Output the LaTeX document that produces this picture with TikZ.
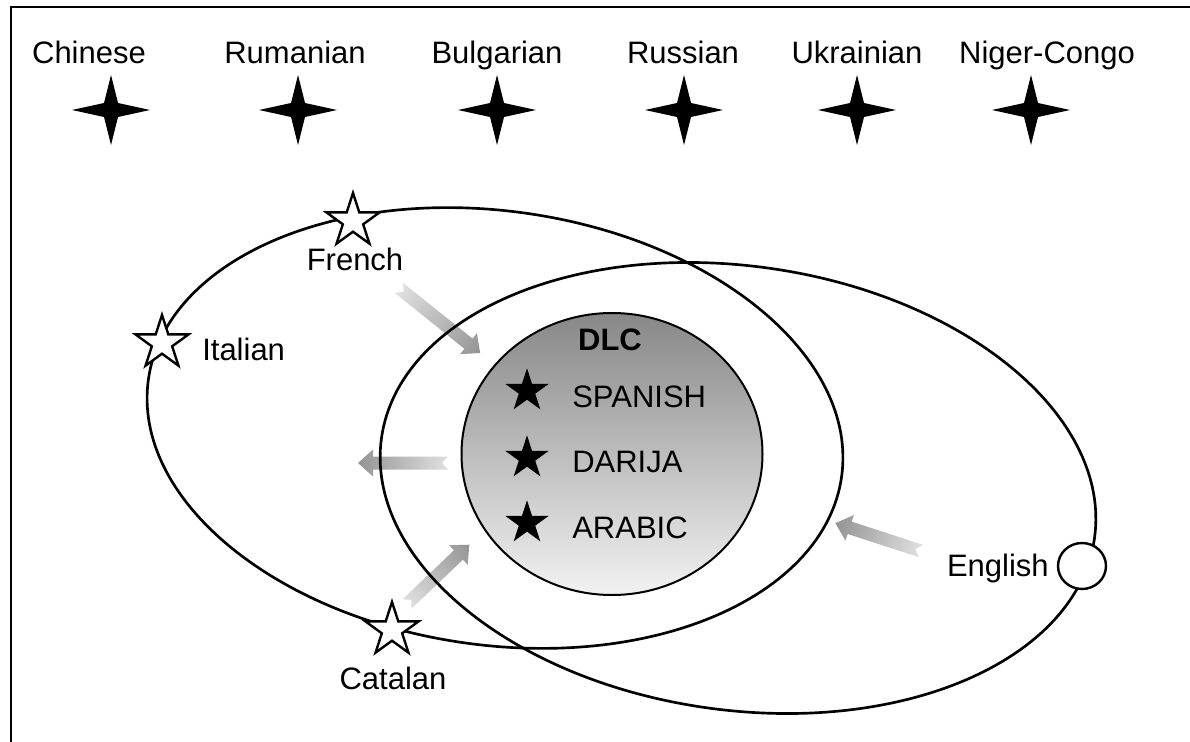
\documentclass[tikz,border=0pt]{standalone}
\usepackage{fontspec}
\setmainfont{Liberation Sans}
\usetikzlibrary{shapes.geometric}
\definecolor{arrlight}{gray}{0.88}
\definecolor{arrdark}{gray}{0.58}
\definecolor{dlctop}{gray}{0.53}
\definecolor{dlcbot}{gray}{0.95}
\newcommand\gradarrow[3]{%
  \begin{scope}[transform canvas={shift={(#1)},rotate=#2}]
    \shade[left color=arrlight,right color=arrdark]
      (0,-6.5) -- ({#3-15},-6.5) -- ({#3-15},-13.5) -- (#3,0) --
      ({#3-15},13.5) -- ({#3-15},6.5) -- (0,6.5) -- (6,0) -- cycle;
  \end{scope}}
\newcommand\fourstar[1]{%
  \fill[black,shift={(#1)}] (0,-35) -- (7,-7) -- (39,0) -- (7,7) --
    (0,35) -- (-7,7) -- (-39,0) -- (-7,-7) -- cycle;}
\begin{document}
\begin{tikzpicture}[x=0.75pt,y=-0.75pt,
  lbl/.style={font=\fontsize{23.25}{28}\selectfont, inner sep=0pt},
  ell/.style={draw=black, line width=2pt},
  wstar/.style={star, star points=5, star point ratio=2.618, draw=black,
    fill=white, line width=1.8pt, minimum size=42pt, inner sep=0pt},
  bstar/.style={star, star points=5, star point ratio=2.618, fill=black,
    minimum size=34pt, inner sep=0pt}]
\useasboundingbox (0,0) rectangle (1190,742);
\fill[white] (0,0) rectangle (1190,742);

% top row
\node[lbl, anchor=base] (chinese) at (89,64) {Chinese};
\node[lbl, anchor=base] (rumanian) at (295,64) {Rumanian};
\node[lbl, anchor=base] (bulgarian) at (497,64) {Bulgarian};
\node[lbl, anchor=base] (russian) at (683,64) {Russian};
\node[lbl, anchor=base] (ukrainian) at (857,64) {Ukrainian};
\node[lbl, anchor=base] (nigercongo) at (1047,64) {Niger-Congo};
\coordinate (s1) at (111,110);
\coordinate (s2) at (298,110);
\coordinate (s3) at (497,110);
\coordinate (s4) at (684,110);
\coordinate (s5) at (857,110);
\coordinate (s6) at (1031,110);
\fourstar{s1}\fourstar{s2}\fourstar{s3}\fourstar{s4}\fourstar{s5}\fourstar{s6}

% arrows (tails)
\coordinate (fa) at (399,288);
\coordinate (la) at (448,463);
\coordinate (ca) at (407,604);
\coordinate (ea) at (921,551);
\gradarrow{fa}{-38.7}{104}
\gradarrow{la}{180}{90}
\gradarrow{ca}{43.6}{86}
\gradarrow{ea}{162}{90}

% ellipses
\draw[ell, rotate around={-8:(495,428)}] (495,428) ellipse [x radius=350, y radius=217];
\draw[ell, rotate around={-8:(738,488)}] (738,488) ellipse [x radius=360, y radius=222];

% DLC core
\node[ellipse, draw=black, line width=1.5pt, top color=dlctop, bottom color=dlcbot,
  minimum width=225.75pt, minimum height=211.5pt, inner sep=0pt] (dlc) at (612,454) {};
\node[lbl, anchor=base, font=\fontsize{23.25}{28}\selectfont\bfseries] (dlct) at (610,350) {DLC};
\node[bstar] (st1) at (527,391) {};
\node[bstar] (st2) at (527,458) {};
\node[bstar] (st3) at (527,523) {};
\node[lbl, anchor=base west] (spanish) at (572,407) {SPANISH};
\node[lbl, anchor=base west] (darija) at (572,472) {DARIJA};
\node[lbl, anchor=base west] (arabic) at (572,538) {ARABIC};

% peripheral languages
\node[wstar] (frstar) at (353,221) {};
\node[lbl, anchor=base] (french) at (355,270) {French};
\node[wstar] (itstar) at (162,343) {};
\node[lbl, anchor=base west] (italian) at (202,360) {Italian};
\node[wstar] (castar) at (392,630) {};
\node[lbl, anchor=base] (catalan) at (393,689) {Catalan};
\node[ellipse, draw=black, fill=white, line width=1.8pt, minimum width=36pt,
  minimum height=34.5pt, inner sep=0pt] (engc) at (1082,566) {};
\node[lbl, anchor=base east] (english) at (1049,576) {English};

% frame
\draw[line width=2pt] (11,742) -- (11,7) -- (1190,7);
\end{tikzpicture}
\end{document}
